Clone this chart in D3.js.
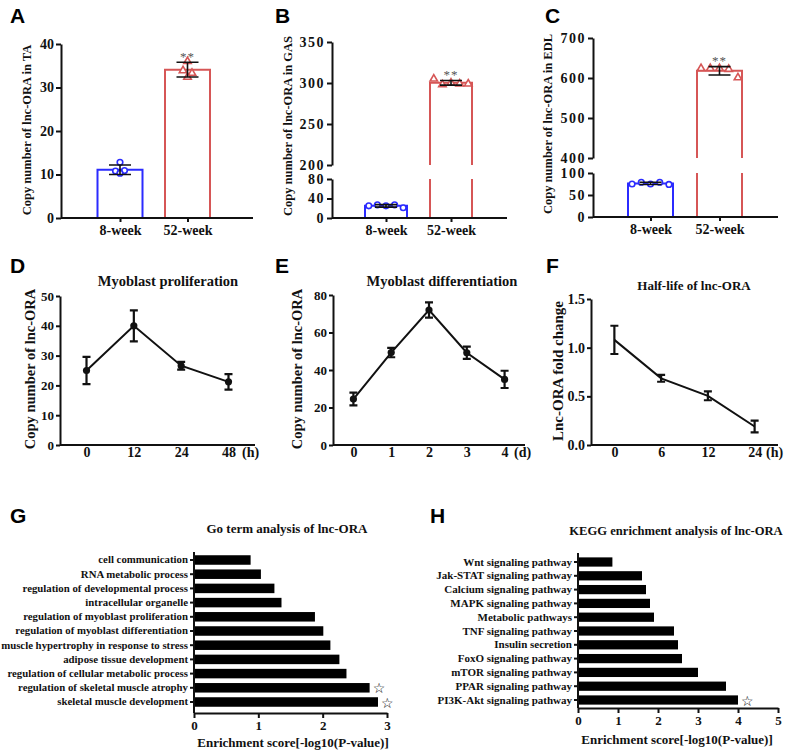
<!DOCTYPE html>
<html><head><meta charset="utf-8">
<script src="https://cdn.jsdelivr.net/npm/d3@7"></script>
<style>body{margin:0;background:#fff}</style>
</head><body>
<svg id="c" width="788" height="753"></svg>
<script>
// ---------------- DATA ----------------
const groups = ["8-week", "52-week"];
// A: TA
const taMean = [11.1, 34.1];
const taSd = [1.1, 1.7];
const taPts8 = [12.8, 10.8, 10.9, 10.3];
const taPts52 = [36.0, 33.9, 33.3, 32.4];
const taTicks = [0, 10, 20, 30, 40];
// B: GAS
const gasMean = [24.9, 300.2];
const gasSd = [2.5, 2.8];
const gasPts8 = [25, 27, 25, 27, 21];
const gasPts52 = [305, 298, 300, 299, 299];
const gasTicksLow = [0, 40, 80];
const gasTicksHigh = [200, 250, 300, 350];
// C: EDL
const edlMean = [76.4, 618];
const edlSd = [2.5, 10.5];
const edlPts8 = [75, 79, 75, 79, 74];
const edlPts52 = [624, 624, 624, 622, 601];
const edlTicksLow = [0, 50, 100];
const edlTicksHigh = [400, 500, 600, 700];
// D: proliferation
const profTime = ["0", "12", "24", "48"];
const profMean = [25, 40, 26.6, 21.2];
const profSd = [4.6, 5.2, 1.3, 2.6];
const profTicks = [0, 10, 20, 30, 40, 50];
// E: differentiation
const diffDay = ["0", "1", "2", "3", "4"];
const diffMean = [24.5, 49.3, 72, 49.2, 35];
const diffSd = [3.4, 2.5, 4.1, 3.3, 4.6];
const diffTicks = [0, 20, 40, 60, 80];
// F: half-life
const halfTime = ["0", "6", "12", "24"];
const halfMean = [1.08, 0.685, 0.505, 0.19];
const halfSd = [0.145, 0.035, 0.045, 0.06];
const halfTicks = [0, 0.5, 1.0, 1.5];
// G: GO terms
const goTerms = ["cell communication", "RNA metabolic process", "regulation of developmental process",
  "intracellular organelle", "regulation of myoblast proliferation", "regulation of myoblast differentiation",
  "muscle hypertrophy in response to stress", "adipose tissue development",
  "regulation of cellular metabolic process", "regulation of skeletal muscle atrophy", "skeletal muscle development"];
const goScores = [0.88, 1.04, 1.25, 1.36, 1.88, 2.01, 2.12, 2.26, 2.37, 2.73, 2.86];
const goStarred = ["regulation of skeletal muscle atrophy", "skeletal muscle development"];
const goTicks = [0, 1, 2, 3];
// H: KEGG
const keggTerms = ["Wnt signaling pathway", "Jak-STAT signaling pathway", "Calcium signaling pathway",
  "MAPK signaling pathway", "Metabolic pathways", "TNF signaling pathway", "Insulin secretion",
  "FoxO signaling pathway", "mTOR signaling pathway", "PPAR signaling pathway", "PI3K-Akt signaling pathway"];
const keggScores = [0.86, 1.6, 1.7, 1.8, 1.9, 2.4, 2.5, 2.6, 3.0, 3.7, 4.0];
const keggStarred = ["PI3K-Akt signaling pathway"];
const keggTicks = [0, 1, 2, 3, 4, 5];

// ---------------- STYLE ----------------
const svg = d3.select("#c");
const SERIF = "'Liberation Serif','Times New Roman',serif";
const INK = "#111";
const BLUE = "#2b2bff";
const RED = "#d65656";

function letter(t, x, y) {
  svg.append("text").attr("x", x).attr("y", y).text(t)
    .attr("font-family", "'Liberation Sans',Arial,sans-serif").attr("font-weight", "bold")
    .attr("font-size", 21).attr("fill", "#000");
}
function fmtAxis(g, fs, ls) {
  g.attr("font-family", SERIF).attr("font-size", fs).attr("font-weight", "bold");
  g.selectAll(".domain").attr("stroke", INK).attr("stroke-width", 2);
  g.selectAll(".tick line").attr("stroke", INK).attr("stroke-width", 2);
  g.selectAll(".tick text").attr("fill", INK);
  if (ls) g.selectAll(".tick text").attr("letter-spacing", ls);
}
function txt(t, x, y, fs, anchor) {
  return svg.append("text").attr("x", x).attr("y", y).text(t)
    .attr("font-family", SERIF).attr("font-weight", "bold").attr("font-size", fs)
    .attr("text-anchor", anchor || "middle").attr("fill", INK);
}
function yLabel(t, cx, cy, fs) {
  svg.append("text").attr("transform", `translate(${cx},${cy}) rotate(-90)`)
    .attr("text-anchor", "middle").attr("dominant-baseline", "central").text(t)
    .attr("font-family", SERIF).attr("font-weight", "bold").attr("font-size", fs).attr("fill", INK);
}
function hline(x1, x2, y) {
  svg.append("line").attr("x1", x1).attr("x2", x2).attr("y1", y).attr("y2", y)
    .attr("stroke", INK).attr("stroke-width", 2);
}

// ---------------- BAR PANELS (A-C) ----------------
function barPanel(o) {
  const g = svg.append("g");
  const x = d3.scalePoint().domain(groups).range(o.centers);
  const segs = o.segs.map(s => ({dom: s.dom, ticks: s.ticks, y: d3.scaleLinear().domain(s.dom).range(s.rng)}));
  const segOf = v => segs.find(s => v >= s.dom[0] && v <= s.dom[1]) || segs[segs.length - 1];
  const yv = v => segOf(v).y(v);
  const colors = [BLUE, RED];
  const pts = [o.pts8, o.pts52];
  groups.forEach((name, i) => {
    const m = o.means[i], cx = x(name), hw = o.bw / 2;
    segs.forEach(s => {
      if (m <= s.dom[0]) return;
      const yb = s.y(s.dom[0]), top = m <= s.dom[1], yt = s.y(Math.min(m, s.dom[1]));
      const d = top ? `M${cx - hw},${yb}V${yt}H${cx + hw}V${yb}`
                    : `M${cx - hw},${yb}V${yt}M${cx + hw},${yt}V${yb}`;
      g.append("path").attr("d", d).attr("fill", "none").attr("stroke", colors[i]).attr("stroke-width", 2);
    });
    // points
    const n = pts[i].length;
    pts[i].forEach((v, j) => {
      const dx = o.diamond ? [0, -1, 1, 0][j % 4] * 4.5 : (j - (n - 1) / 2) * (o.bw * 0.82 / (n - 1));
      const px = cx + dx, py = yv(v);
      if (i === 0) {
        g.append("circle").attr("cx", px).attr("cy", py).attr("r", 2.8)
          .attr("fill", "#fff").attr("stroke", BLUE).attr("stroke-width", 1.6);
      } else {
        g.append("path").attr("d", d3.symbol(d3.symbolTriangle, 24)())
          .attr("transform", `translate(${px},${py})`)
          .attr("fill", "#fff").attr("stroke", RED).attr("stroke-width", 1.6);
      }
    });
    // error bar
    const y1 = yv(m - o.sds[i]), y2 = yv(m + o.sds[i]);
    g.append("path").attr("d", `M${cx},${y1}V${y2}M${cx - 11},${y1}H${cx + 11}M${cx - 11},${y2}H${cx + 11}`)
      .attr("stroke", INK).attr("stroke-width", 1.6).attr("fill", "none");
    if (i === 1) {
      g.append("text").attr("x", cx).attr("y", y2 - 1.5).attr("text-anchor", "middle").text("**")
        .attr("font-family", SERIF).attr("font-size", 13).attr("fill", "#555").attr("letter-spacing", 1);
    }
  });
  // axes
  const base = segs[0].y(segs[0].dom[0]);
  hline(o.x0, o.xEnd, base);
  const gx = svg.append("g").attr("transform", `translate(0,${base})`)
    .call(d3.axisBottom(x).tickSize(4).tickPadding(3));
  gx.select(".domain").remove();
  fmtAxis(gx, 14);
  segs.forEach(s => {
    const gy = svg.append("g").attr("transform", `translate(${o.x0},0)`)
      .call(d3.axisLeft(s.y).tickValues(s.ticks).tickSize(5).tickSizeOuter(0).tickPadding(2).tickFormat(d3.format("d")));
    fmtAxis(gy, o.tickFs || 14, o.ls);
  });
}

barPanel({centers: [120, 187.5], bw: 45, x0: 61, xEnd: 253, diamond: true,
  segs: [{dom: [0, 40], rng: [218, 44], ticks: taTicks}],
  means: taMean, sds: taSd, pts8: taPts8, pts52: taPts52});
barPanel({centers: [386, 451], bw: 42, x0: 332, xEnd: 507, ls: 1.5,
  segs: [{dom: [0, 80], rng: [218, 179], ticks: gasTicksLow}, {dom: [200, 350], rng: [165, 42], ticks: gasTicksHigh}],
  means: gasMean, sds: gasSd, pts8: gasPts8, pts52: gasPts52});
barPanel({centers: [650.5, 719.5], bw: 45, x0: 593, xEnd: 778, ls: 1.5,
  segs: [{dom: [0, 100], rng: [217, 173], ticks: edlTicksLow}, {dom: [400, 700], rng: [158, 38], ticks: edlTicksHigh}],
  means: edlMean, sds: edlSd, pts8: edlPts8, pts52: edlPts52});
yLabel("Copy number of lnc-ORA in TA", 27, 130, 12.5);
yLabel("Copy number of lnc-ORA in GAS", 288, 126, 12.5);
yLabel("Copy number of lnc-ORA in EDL", 548, 124, 12.5);

// ---------------- LINE PANELS (D-F) ----------------
function linePanel(o) {
  const x = d3.scalePoint().domain(o.cats).range([o.x0, o.xEnd]).padding(o.pad);
  const y = d3.scaleLinear().domain([0, o.yMax]).range([o.yBot, o.yTop]);
  const gy = svg.append("g").attr("transform", `translate(${o.x0},0)`)
    .call(d3.axisLeft(y).tickValues(o.ticks).tickSize(4).tickSizeOuter(0).tickPadding(2).tickFormat(o.fmt));
  fmtAxis(gy, o.yFs);
  hline(o.x0, o.xEnd, o.yBot);
  const gx = svg.append("g").attr("transform", `translate(0,${o.yBot})`)
    .call(d3.axisBottom(x).tickSize(0).tickPadding(2));
  gx.select(".domain").remove();
  fmtAxis(gx, 14);
  txt(o.unit, o.unitX, o.yBot + 12, 14, "start");
  svg.append("path").datum(o.means)
    .attr("d", d3.line().x((d, i) => x(o.cats[i])).y(d => y(d)))
    .attr("fill", "none").attr("stroke", INK).attr("stroke-width", 2);
  o.means.forEach((m, i) => {
    const cx = x(o.cats[i]), y1 = y(m - o.sds[i]), y2 = y(m + o.sds[i]);
    svg.append("path").attr("d", `M${cx},${y1}V${y2}M${cx - 4},${y1}H${cx + 4}M${cx - 4},${y2}H${cx + 4}`)
      .attr("stroke", INK).attr("stroke-width", 2.2).attr("fill", "none");
    if (o.dots) svg.append("circle").attr("cx", cx).attr("cy", y(m)).attr("r", 3.6).attr("fill", INK);
  });
  txt(o.title, o.titleX, o.titleY, o.titleFs);
}
linePanel({cats: profTime, means: profMean, sds: profSd, ticks: profTicks, yMax: 50, fmt: d3.format("d"),
  x0: 60, xEnd: 255, pad: 0.56, yTop: 296, yBot: 445, yFs: 13, unit: "(h)", unitX: 242, dots: true,
  title: "Myoblast proliferation", titleX: 168, titleY: 286, titleFs: 14.5});
linePanel({cats: diffDay, means: diffMean, sds: diffSd, ticks: diffTicks, yMax: 80, fmt: d3.format("d"),
  x0: 333, xEnd: 525, pad: 0.54, yTop: 295, yBot: 445, yFs: 13, unit: "(d)", unitX: 514, dots: true,
  title: "Myoblast differentiation", titleX: 442, titleY: 286, titleFs: 14.5});
linePanel({cats: halfTime, means: halfMean, sds: halfSd, ticks: halfTicks, yMax: 1.5, fmt: d3.format(".1f"),
  x0: 591, xEnd: 778, pad: 0.5, yTop: 299, yBot: 445, yFs: 14, unit: "(h)", unitX: 766, dots: false,
  title: "Half-life of lnc-ORA", titleX: 694, titleY: 290, titleFs: 13});
yLabel("Copy number of lnc-ORA", 30, 369, 14.5);
yLabel("Copy number of lnc-ORA", 297, 369, 14.5);
yLabel("Lnc-ORA fold change", 558, 371, 15);

// ---------------- HORIZONTAL BAR PANELS (G-H) ----------------
function hbarPanel(o) {
  const y = d3.scaleBand().domain(o.cats).range([o.bTop, o.bBot]).paddingInner(0.33).paddingOuter(0.165);
  const x = d3.scaleLinear().domain([0, o.xMax]).range([o.x0, o.x1]);
  svg.append("g").selectAll("rect").data(o.vals).join("rect")
    .attr("x", x(0)).attr("y", (d, i) => y(o.cats[i])).attr("width", d => x(d) - x(0))
    .attr("height", y.bandwidth()).attr("fill", "#000");
  const gy = svg.append("g").attr("transform", `translate(${o.x0},0)`)
    .call(d3.axisLeft(y).tickSize(4).tickPadding(2));
  gy.select(".domain").remove();
  fmtAxis(gy, o.catFs);
  svg.append("line").attr("x1", o.x0).attr("x2", o.x0).attr("y1", o.axTop).attr("y2", o.axY)
    .attr("stroke", INK).attr("stroke-width", 2);
  const gx = svg.append("g").attr("transform", `translate(0,${o.axY})`)
    .call(d3.axisBottom(x).tickValues(o.ticks).tickSize(5).tickSizeOuter(0).tickPadding(3).tickFormat(d3.format("d")));
  fmtAxis(gx, 13);
  o.vals.forEach((v, i) => {
    if (!o.starred.includes(o.cats[i])) return;
    svg.append("text").attr("x", x(v) + 3).attr("y", y(o.cats[i]) + y.bandwidth() / 2 + 0.5)
      .attr("dominant-baseline", "central").text("\u2606")
      .attr("font-family", "'DejaVu Sans',sans-serif").attr("font-size", 14).attr("fill", "#000");
  });
  txt(o.title, o.titleX, o.titleY, o.titleFs || 13);
  txt("Enrichment score[-log10(P-value)]", o.xtX, o.xtY, 13);
}
hbarPanel({cats: goTerms, vals: goScores, starred: goStarred, ticks: goTicks, xMax: 3,
  x0: 194, x1: 387, bTop: 552.9, bBot: 709.1, axTop: 552, axY: 713, catFs: 10.8,
  title: "Go term analysis of lnc-ORA", titleX: 287, titleY: 533, xtX: 293, xtY: 747});
hbarPanel({cats: keggTerms, vals: keggScores, starred: keggStarred, ticks: keggTicks, xMax: 5,
  x0: 578, x1: 778, bTop: 555.1, bBot: 706.9, axTop: 553, axY: 708, catFs: 11,
  title: "KEGG enrichment analysis of lnc-ORA", titleX: 676, titleY: 535, titleFs: 12.6, xtX: 677, xtY: 744});

// panel letters
letter("A", 10, 23); letter("B", 275, 23); letter("C", 545, 23);
letter("D", 10, 273); letter("E", 275, 273); letter("F", 546, 273);
letter("G", 10, 523); letter("H", 430, 523);
</script>
</body></html>
